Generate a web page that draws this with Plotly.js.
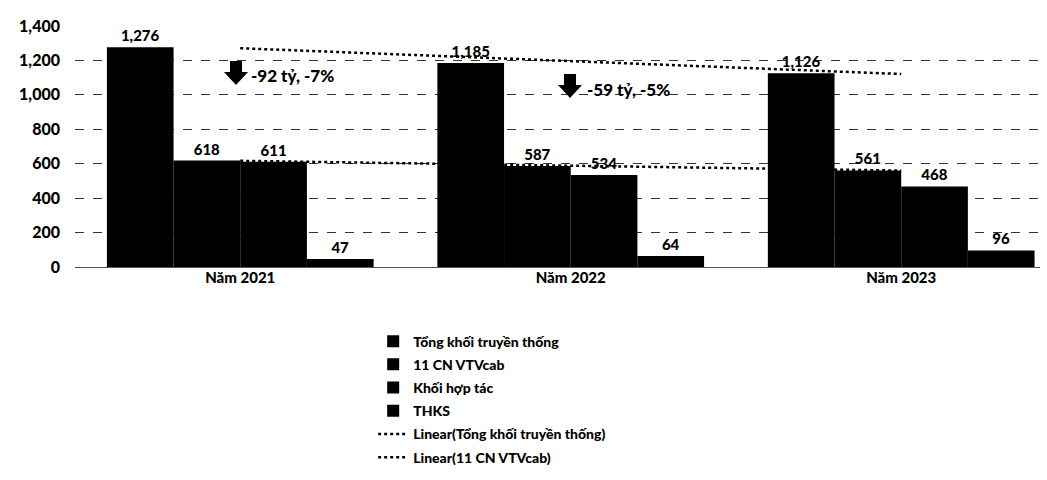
<!DOCTYPE html>
<html>
<head>
<meta charset="utf-8">
<script src="https://cdn.plot.ly/plotly-3.0.1.min.js"></script>
<style>html,body{margin:0;padding:0;background:#fff;}#chart{width:1047px;height:480px;}</style>
</head>
<body>
<div id="chart"></div>
<script>
const categories = ['Năm 2021', 'Năm 2022', 'Năm 2023'];
const tongKhoi = [1276, 1185, 1126];
const cnVtvcab = [618, 587, 561];
const khoiHopTac = [611, 534, 468];
const thks = [47, 64, 96];
const trendTong = [1271, 1196, 1121];
const trendVtv = [617, 589, 560];
const seriesNames = ['Tổng khối truyền thống', '11 CN VTVcab', 'Khối hợp tác', 'THKS',
  'Linear(Tổng khối truyền thống)', 'Linear(11 CN VTVcab)'];
const changeLabels = ['-92 tỷ, -7%', '-59 tỷ, -5%'];

const FONT = 'Lato, "Open Sans", sans-serif';

function barTrace(name, vals, i) {
  return {
    type: 'bar', name: name, x: categories, y: vals, legendgroup: 'g' + i,
    marker: {color: '#000', line: {width: 0}},
    text: vals.map(v => v.toLocaleString('en-US')),
    textposition: 'outside', cliponaxis: false,
    textfont: {family: FONT, size: 15, color: '#000', weight: 900},
    hoverinfo: 'x+y'
  };
}
function trendTrace(name, vals, i) {
  return {
    type: 'scatter', mode: 'lines', name: name, x: categories, y: vals, legendgroup: 'g' + i,
    line: {color: '#000', width: 2.5, dash: 'dot'}, cliponaxis: false
  };
}

const data = [
  barTrace(seriesNames[0], tongKhoi, 0),
  barTrace(seriesNames[1], cnVtvcab, 1),
  barTrace(seriesNames[2], khoiHopTac, 2),
  barTrace(seriesNames[3], thks, 3),
  trendTrace(seriesNames[4], trendTong, 4),
  trendTrace(seriesNames[5], trendVtv, 5)
];

// thick down-arrow outline in pixel units relative to its top-left corner
function arrowPath(left, top) {
  const px = (x) => ((left + x - 75) / 965).toFixed(4);
  const py = (y) => ((267 - (top + y)) / 241).toFixed(4);
  const pts = [[6, 0], [18, 0], [18, 11], [24, 11], [12, 24], [0, 11], [6, 11]];
  return 'M ' + pts.map(p => px(p[0]) + ',' + py(p[1])).join(' L ') + ' Z';
}

const layout = {
  width: 1047, height: 480,
  margin: {l: 75, r: 7, t: 26, b: 213},
  paper_bgcolor: '#fff', plot_bgcolor: '#fff',
  barmode: 'group', bargap: 0.193, bargroupgap: 0,
  showlegend: true,
  font: {family: FONT, color: '#000'},
  xaxis: {
    type: 'category', range: [-0.5, 2.42],
    showgrid: false, showline: false, zeroline: false,
    ticks: '', ticklen: 0,
    tickfont: {family: FONT, size: 15, color: '#000', weight: 900}
  },
  yaxis: {
    range: [0, 1400], dtick: 200, tickformat: ',',
    showgrid: true, gridcolor: '#333', gridwidth: 1, griddash: 'dash',
    zeroline: true, zerolinecolor: '#555', zerolinewidth: 1,
    showline: false, ticks: '', ticklabelstandoff: 14,
    tickfont: {family: FONT, size: 16, color: '#000', weight: 900}
  },
  legend: {
    orientation: 'v', x: 0.309, xanchor: 'left', y: -0.243, yanchor: 'top',
    font: {family: FONT, size: 14, color: '#000', weight: 900},
    itemwidth: 30, tracegroupgap: 2, traceorder: 'grouped',
    bgcolor: 'rgba(0,0,0,0)'
  },
  shapes: [
    {type: 'path', xref: 'paper', yref: 'paper', path: arrowPath(224, 61),
     fillcolor: '#000', line: {width: 0}},
    {type: 'path', xref: 'paper', yref: 'paper', path: arrowPath(558, 74),
     fillcolor: '#000', line: {width: 0}}
  ],
  annotations: [
    {xref: 'paper', yref: 'paper', x: (249 - 75) / 965, y: (267 - 75) / 241,
     text: changeLabels[0], showarrow: false, xanchor: 'left', yanchor: 'middle',
     font: {family: FONT, size: 17, color: '#000', weight: 900}},
    {xref: 'paper', yref: 'paper', x: (585 - 75) / 965, y: (267 - 89) / 241,
     text: changeLabels[1], showarrow: false, xanchor: 'left', yanchor: 'middle',
     font: {family: FONT, size: 17, color: '#000', weight: 900}}
  ]
};

Plotly.newPlot('chart', data, layout, {displayModeBar: false, staticPlot: true});
</script>
</body>
</html>
